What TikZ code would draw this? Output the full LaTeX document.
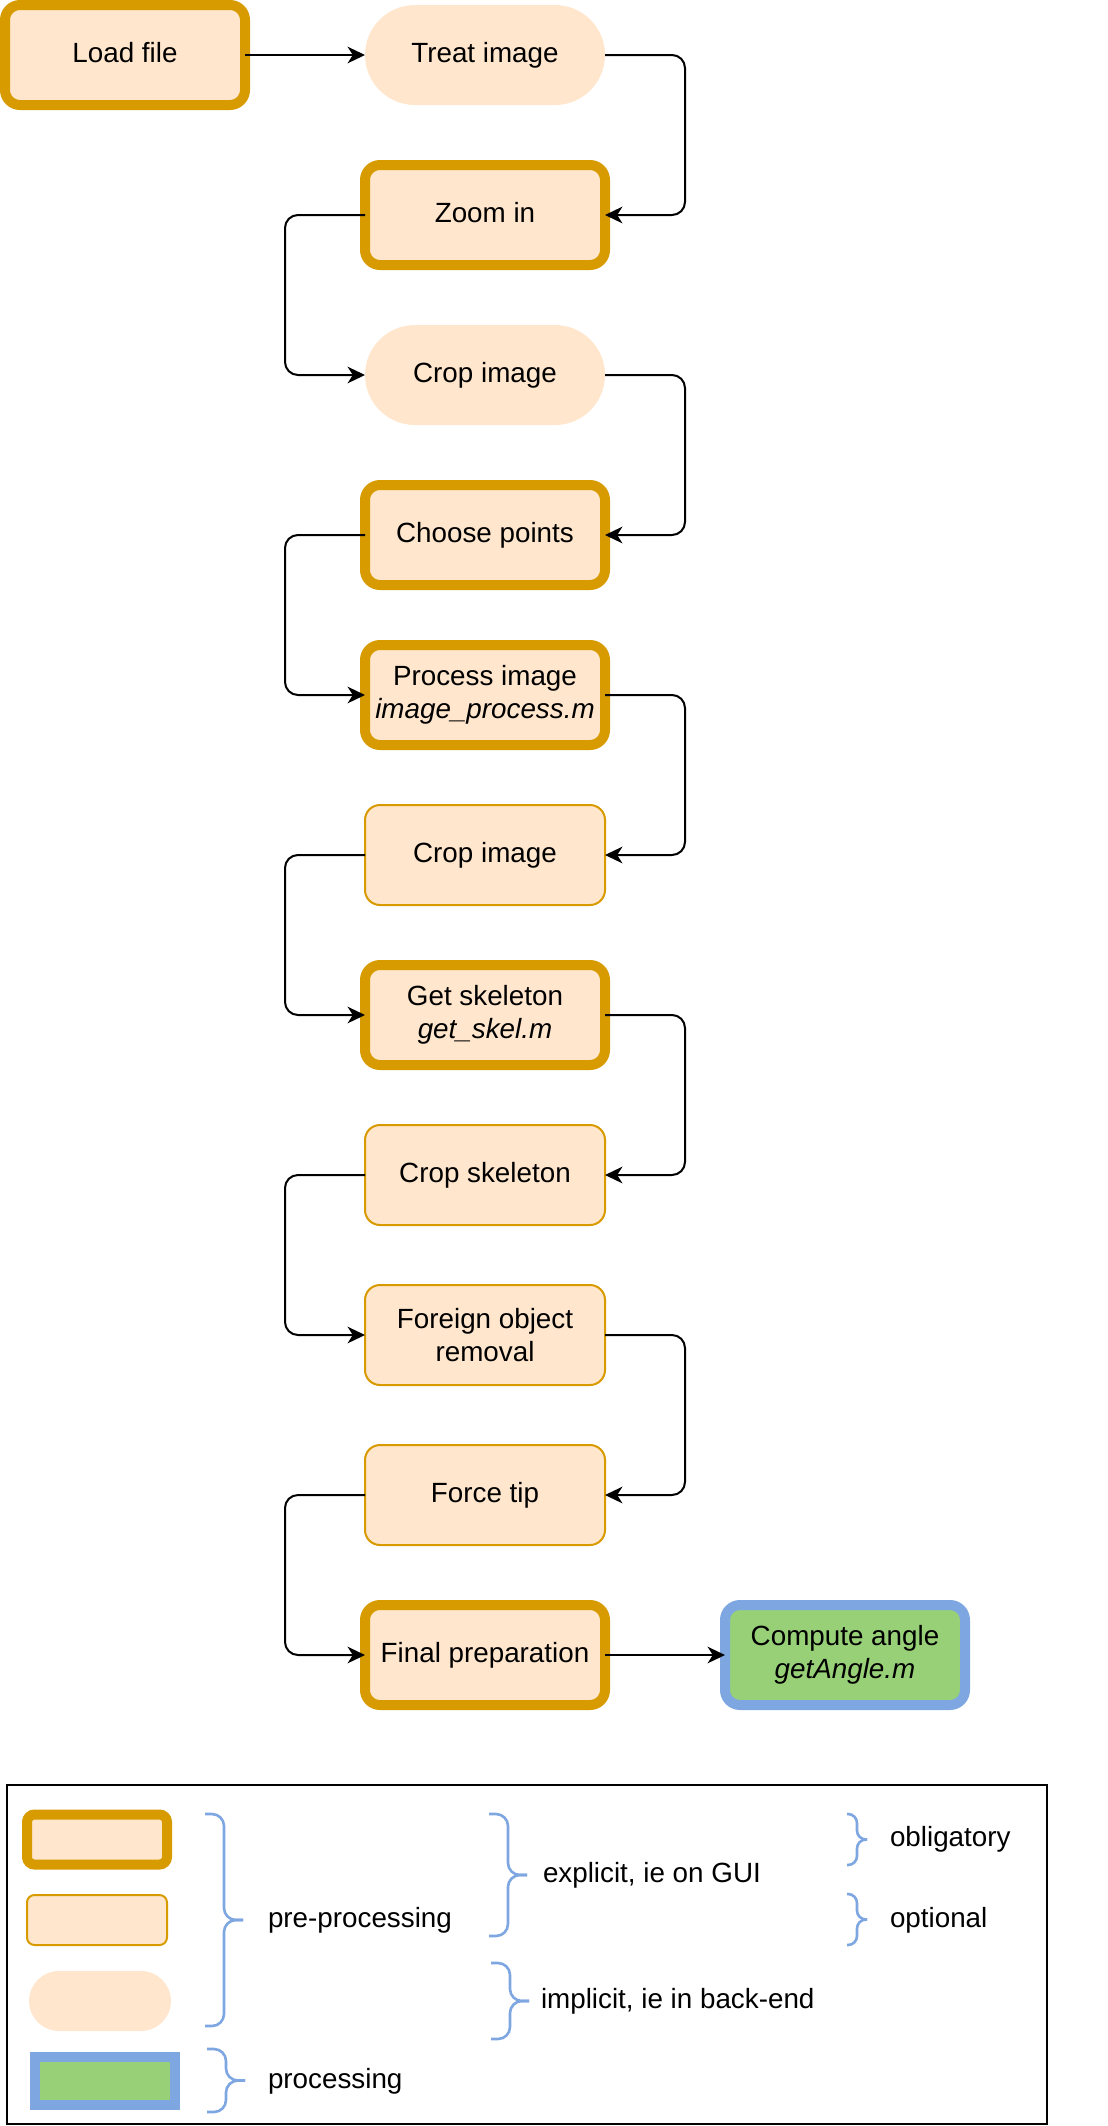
\documentclass[tikz,border=0pt]{standalone}
\usepackage{fontspec}
\setmainfont{Liberation Sans}
\usetikzlibrary{arrows.meta,shapes.misc}
\definecolor{orfill}{HTML}{FFE6CC}
\definecolor{orline}{HTML}{D79B00}
\definecolor{grfill}{HTML}{97D077}
\definecolor{blline}{HTML}{7EA6E0}
\newcommand{\lgbrace}[5]{%
  \draw[brc, rounded corners=#5] (#1,#2) -- ({(#1+#3)/2},#2) -- ({(#1+#3)/2},{(#2+#4)/2}) -- (#3,{(#2+#4)/2});
  \draw[brc, rounded corners=#5] (#1,#4) -- ({(#1+#3)/2},#4) -- ({(#1+#3)/2},{(#2+#4)/2}) -- (#3,{(#2+#4)/2});
}
\begin{document}
\begin{tikzpicture}[x=1pt,y=-1pt,
  every node/.style={outer sep=0pt, inner sep=0pt, font=\fontsize{13.9}{16.5}\selectfont, align=center},
  oneline/.style={text height=10pt, text depth=2.4pt},
  box/.style={minimum width=120pt, minimum height=50pt, fill=orfill, draw=orline, rounded corners=7.5pt},
  oblbox/.style={box, line width=5pt},
  optbox/.style={box, line width=1pt},
  implbox/.style={rounded rectangle, minimum width=120pt, minimum height=50pt, fill=orfill},
  procbox/.style={minimum width=120pt, minimum height=50pt, fill=grfill, draw=blline, line width=5pt, rounded corners=7.5pt},
  conn/.style={draw=black, line width=1pt, rounded corners=6.5pt, -{Stealth[length=8.7pt,width=8.3pt,inset=2.6pt]}},
  brc/.style={draw=blline, line width=1.3pt},
  lbl/.style={anchor=west, oneline}
]
\useasboundingbox (0,0) rectangle (554,1063);

% flow nodes
\node[oblbox, oneline] (load) at (62.5,27.5) {Load file};
\node[implbox, oneline] (treat) at (242.5,27.5) {Treat image};
\node[oblbox, oneline] (zoom) at (242.5,107.5) {Zoom in};
\node[implbox, oneline] (crop1) at (242.5,187.5) {Crop image};
\node[oblbox, oneline] (choose) at (242.5,267.5) {Choose points};
\node[oblbox] (process) at (242.5,347.5) {Process image\\\textit{image\_process.m}};
\node[optbox, oneline] (crop2) at (242.5,427.5) {Crop image};
\node[oblbox] (skel) at (242.5,507.5) {Get skeleton\\\textit{get\_skel.m}};
\node[optbox, oneline] (cropskel) at (242.5,587.5) {Crop skeleton};
\node[optbox] (foreign) at (242.5,667.5) {Foreign object\\removal};
\node[optbox, oneline] (force) at (242.5,747.5) {Force tip};
\node[oblbox, oneline] (final) at (242.5,827.5) {Final preparation};
\node[procbox] (angle) at (422.5,827.5) {Compute angle\\\textit{getAngle.m}};

% connectors
\draw[conn] (load.east) -- (treat.west);
\draw[conn] (treat.east) -- ++(40,0) |- (zoom.east);
\draw[conn] (zoom.west) -- ++(-40,0) |- (crop1.west);
\draw[conn] (crop1.east) -- ++(40,0) |- (choose.east);
\draw[conn] (choose.west) -- ++(-40,0) |- (process.west);
\draw[conn] (process.east) -- ++(40,0) |- (crop2.east);
\draw[conn] (crop2.west) -- ++(-40,0) |- (skel.west);
\draw[conn] (skel.east) -- ++(40,0) |- (cropskel.east);
\draw[conn] (cropskel.west) -- ++(-40,0) |- (foreign.west);
\draw[conn] (foreign.east) -- ++(40,0) |- (force.east);
\draw[conn] (force.west) -- ++(-40,0) |- (final.west);
\draw[conn] (final.east) -- (angle.west);

% legend
\node[draw=black, line width=1pt, minimum width=520pt, minimum height=169.5pt] (legend) at (263.5,977.25) {};
\node[oblbox, minimum width=70pt, minimum height=25pt, rounded corners=3.75pt] (lobl) at (48.5,919.75) {};
\node[optbox, minimum width=70pt, minimum height=25pt, rounded corners=3.75pt] (lopt) at (48.5,960) {};
\node[implbox, minimum width=71pt, minimum height=30pt] (limpl) at (50,1000.5) {};
\node[fill=grfill, draw=blline, line width=5pt, minimum width=70pt, minimum height=24pt] (lproc) at (52.5,1040.5) {};

\lgbrace{102.5}{907}{121.5}{1013}{6pt}
\lgbrace{103.5}{1024.5}{122.5}{1056}{6pt}
\lgbrace{244.5}{907}{263.5}{968}{6pt}
\lgbrace{245.5}{981.5}{264.5}{1019.5}{6pt}
\lgbrace{423.5}{907}{433.5}{932.5}{4.5pt}
\lgbrace{423.5}{947}{433.5}{972.5}{4.5pt}

\node[lbl] (tpre) at (134,960) {pre-processing};
\node[lbl] (tproc) at (134,1040.5) {processing};
\node[lbl] (texpl) at (271.5,937.5) {explicit, ie on GUI};
\node[lbl] (timpl) at (270.5,1000.5) {implicit, ie in back-end};
\node[lbl] (tobl) at (445,919.5) {obligatory};
\node[lbl] (topt) at (445,960) {optional};
\end{tikzpicture}
\end{document}
